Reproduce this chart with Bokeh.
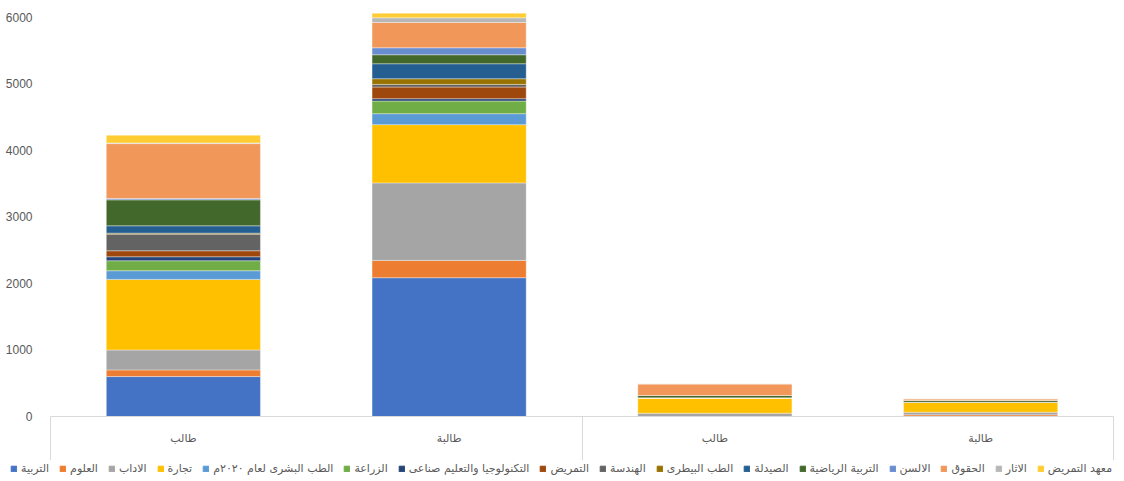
from bokeh.plotting import figure
from bokeh.layouts import column
from bokeh.models import Range1d, FixedTicker, LinearAxis, Legend, LegendItem, ColumnDataSource
from bokeh.embed import file_html
from bokeh.resources import INLINE

# ---- data ----
categories = ["طالب", "طالبة", "طالب", "طالبة"]
series = ["التربية", "العلوم", "الاداب", "تجارة", "الطب البشرى لعام ٢٠٢٠م", "الزراعة",
          "التكنولوجيا والتعليم صناعى", "التمريض", "الهندسة", "الطب البيطرى", "الصيدلة",
          "التربية الرياضية", "الالسن", "الحقوق", "الاثار", "معهد التمريض"]
colors = ["#4472C4", "#ED7D31", "#A5A5A5", "#FFC000", "#5B9BD5", "#70AD47",
          "#264478", "#9E480E", "#636363", "#997300", "#255E91",
          "#43682B", "#698ED0", "#F1975A", "#B7B7B7", "#FFCD33"]
tarbiya = [600, 2085, 0, 0]
oloom = [100, 260, 0, 25]
adab = [300, 1165, 50, 40]
tegara = [1060, 875, 231, 150]
tebb_bashary = [130, 165, 0, 0]
zeraa = [150, 190, 0, 0]
technology = [60, 35, 0, 0]
tamreed = [90, 175, 0, 0]
handasa = [250, 40, 0, 0]
tebb_bitary = [15, 85, 0, 0]
saydala = [110, 225, 0, 0]
tarbiya_riyadiya = [390, 135, 35, 25]
alsun = [20, 105, 0, 0]
hoqooq = [825, 380, 175, 26]
athar = [10, 70, 0, 0]
maahad_tamreed = [115, 70, 0, 0]
all_values = [tarbiya, oloom, adab, tegara, tebb_bashary, zeraa, technology, tamreed,
              handasa, tebb_bitary, saydala, tarbiya_riyadiya, alsun, hoqooq, athar, maahad_tamreed]
y_ticks = [0, 1000, 2000, 3000, 4000, 5000, 6000]

# ---- main chart ----
xpos = [1, 3, 5, 7]
keys = ["s%d" % i for i in range(len(series))]
data = {"x": xpos}
for k, v in zip(keys, all_values):
    data[k] = v
src = ColumnDataSource(data)

p = figure(width=1124, height=460, x_range=Range1d(0, 8), y_range=Range1d(0, 6100),
           output_backend="svg", toolbar_location=None, x_axis_type=None,
           min_border_left=50, min_border_right=11, min_border_top=10, min_border_bottom=44)
p.outline_line_color = None
p.grid.visible = False
p.frame_align = False

p.vbar_stack(keys, x="x", width=1.16, color=colors, source=src,
             line_color="white", line_width=0.6, line_alpha=0.6)

yax = p.yaxis[0]
yax.ticker = FixedTicker(ticks=y_ticks)
yax.axis_line_color = None
yax.major_tick_line_color = None
yax.minor_tick_line_color = None
yax.major_label_text_font = "Liberation Sans"
yax.major_label_text_font_size = "12px"
yax.major_label_text_color = "#595959"
yax.major_label_standoff = 12

xax = LinearAxis(ticker=FixedTicker(ticks=xpos, minor_ticks=[0, 4, 8]),
                 major_label_overrides={x: c for x, c in zip(xpos, categories)})
xax.axis_line_color = "#D9D9D9"
xax.major_tick_line_color = None
xax.major_tick_out = 0
xax.major_tick_in = 0
xax.minor_tick_line_color = "#D9D9D9"
xax.minor_tick_out = 44
xax.minor_tick_in = 0
xax.major_label_standoff = -29
xax.major_label_text_font = "DejaVu Sans"
xax.major_label_text_font_size = "11px"
xax.major_label_text_color = "#595959"
p.add_layout(xax, "below")

# ---- legend strip ----
lf = figure(width=1124, height=21, x_range=Range1d(0, 1), y_range=Range1d(0, 1),
            output_backend="svg", toolbar_location=None, x_axis_type=None, y_axis_type=None,
            min_border_left=0, min_border_right=0, min_border_top=0, min_border_bottom=0)
lf.outline_line_color = None
lf.grid.visible = False
lf.frame_align = False
items = []
for name, c in zip(series, colors):
    r = lf.rect(x=[-5], y=[-5], width=1, height=1, color=c)
    items.append(LegendItem(label=name, renderers=[r]))
legend = Legend(items=items, orientation="horizontal", location=(10, 6),
                glyph_width=7, glyph_height=7, label_standoff=4, spacing=10,
                padding=0, margin=0, label_height=10,
                label_text_font="DejaVu Sans", label_text_font_size="11px",
                label_text_color="#595959", border_line_color=None, background_fill_alpha=0)
lf.add_layout(legend)

open("out.html", "w").write(file_html(column(p, lf), INLINE))
